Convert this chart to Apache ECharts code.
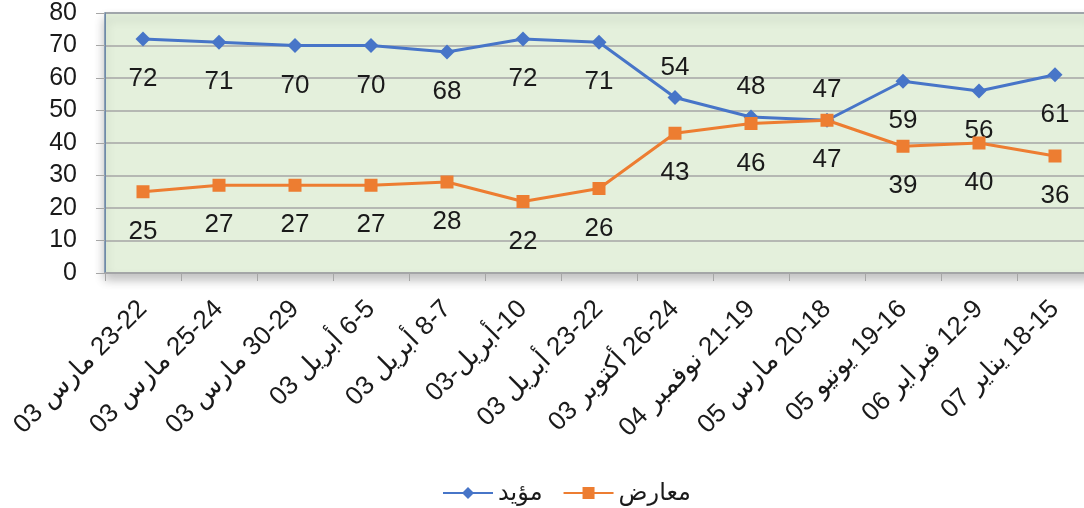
<!DOCTYPE html>
<html>
<head>
<meta charset="utf-8">
<script src="https://cdn.jsdelivr.net/npm/echarts@6/dist/echarts.min.js"></script>
<style>
  html, body { margin: 0; padding: 0; background: #fff; }
  #chart { width: 1084px; height: 508px; }
</style>
</head>
<body>
<div id="chart"></div>
<script>
// Poll results: supporters vs opponents
const LRM = '\u200E';
const categories = [
  '03 مارس ' + LRM + '23-22',
  '03 مارس ' + LRM + '25-24',
  '03 مارس ' + LRM + '30-29',
  '03 أبريل ' + LRM + '6-5',
  '03 أبريل ' + LRM + '8-7',
  '03-أبريل-' + LRM + '10',
  '03 أبريل ' + LRM + '23-22',
  '03 أكتوبر ' + LRM + '26-24',
  '04 نوفمبر ' + LRM + '21-19',
  '05 مارس ' + LRM + '20-18',
  '05 يونيو ' + LRM + '19-16',
  '06 فبراير ' + LRM + '12-9',
  '07 يناير ' + LRM + '18-15',
];
const supportValues = [72, 71, 70, 70, 68, 72, 71, 54, 48, 47, 59, 56, 61];
const opposeValues = [25, 27, 27, 27, 28, 22, 26, 43, 46, 47, 39, 40, 36];
const supportName = 'مؤيد';
const opposeName = 'معارض';
// points whose label sits above the marker instead of below
const supportLabelAbove = [7, 8, 9];

const FONT = '"Liberation Sans", "DejaVu Sans", sans-serif';
const COLORS = {
  support: '#4775c8',
  oppose: '#ed7d31',
  plotBg: '#e4f0dc',
  grid: '#a6a6a6',
  axis: '#a6a6a6',
  border: '#6f8aa8',
  text: '#1a1a1a',
};

function labelFor(idx, above) {
  return {
    show: true,
    position: 'inside',
    offset: [0, above ? -30 : 40],
    fontSize: 26,
    fontFamily: FONT,
    color: COLORS.text,
  };
}

const chart = echarts.init(document.getElementById('chart'), null, { renderer: 'canvas' });

chart.setOption({
  backgroundColor: '#fff',
  animation: false,
  grid: {
    left: 105, top: 13, width: 988, height: 260,
    outerBoundsMode: 'none',
    show: true,
    backgroundColor: COLORS.plotBg,
    borderColor: COLORS.border,
    borderWidth: 1.5,
    shadowColor: 'rgba(0,0,0,0.25)',
    shadowBlur: 10,
    shadowOffsetY: 6,
  },
  legend: {
    top: 476,
    left: 437,
    itemWidth: 50,
    itemHeight: 15,
    itemGap: 20,
    textStyle: { fontSize: 24, fontFamily: FONT, color: COLORS.text },
    data: [supportName, opposeName],
  },
  xAxis: {
    type: 'category',
    data: categories,
    boundaryGap: true,
    axisLine: { show: true, lineStyle: { color: COLORS.axis, width: 1.5 } },
    axisTick: { show: true, length: 8, lineStyle: { color: COLORS.axis } },
    axisLabel: {
      rotate: 45,
      interval: 0,
      margin: 32,
      fontSize: 26,
      fontFamily: FONT,
      color: COLORS.text,
    },
  },
  yAxis: {
    type: 'value',
    min: 0, max: 80, interval: 10,
    axisLine: { show: true, lineStyle: { color: COLORS.border } },
    axisTick: { show: true, length: 9, lineStyle: { color: COLORS.axis } },
    axisLabel: { fontSize: 25, fontFamily: FONT, color: COLORS.text, margin: 28 },
    splitLine: { lineStyle: { color: COLORS.grid, width: 1.5 } },
  },
  series: [
    {
      name: supportName, type: 'line', color: COLORS.support,
      symbol: 'diamond', symbolSize: 15,
      lineStyle: { width: 3 },
      data: supportValues.map((v, i) => ({ value: v, label: labelFor(i, supportLabelAbove.includes(i)) })),
      z: 3,
    },
    {
      name: opposeName, type: 'line', color: COLORS.oppose,
      symbol: 'rect', symbolSize: 13,
      lineStyle: { width: 3 },
      data: opposeValues.map((v, i) => ({ value: v, label: labelFor(i, false) })),
      z: 4,
    },
  ],
});
</script>
</body>
</html>
